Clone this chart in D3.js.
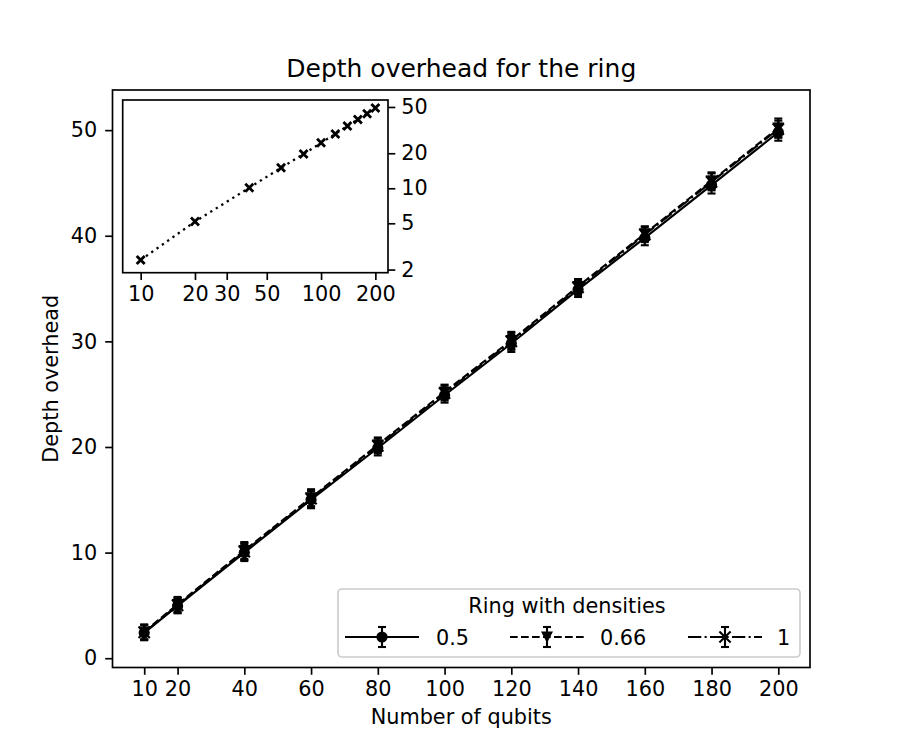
<!DOCTYPE html>
<html>
<head>
<meta charset="utf-8">
<script src="https://cdn.jsdelivr.net/npm/d3@7"></script>
<style>
  body { margin: 0; background: #fff; }
  svg text { font-family: "DejaVu Sans", sans-serif; fill: #000; }
</style>
</head>
<body>
<svg id="chart" width="900" height="750"></svg>
<script>
// data
var qubits = [10, 20, 40, 60, 80, 100, 120, 140, 160, 180, 200];
var densities = ["0.5", "0.66", "1"];
var depth05 = [2.4, 4.95, 10.0, 15.0, 19.9, 24.9, 29.8, 34.9, 39.8, 44.8, 49.8];
var depth066 = [2.5, 5.1, 10.2, 15.2, 20.2, 25.2, 30.1, 35.2, 40.2, 45.2, 50.2];
var depth1 = [2.45, 5.0, 10.1, 15.1, 20.1, 25.1, 30.0, 35.1, 40.1, 45.1, 50.1];
var err05 = [0.7, 0.7, 0.8, 0.8, 0.7, 0.7, 0.8, 0.7, 0.7, 0.8, 0.8];
var err066 = [0.7, 0.7, 0.8, 0.8, 0.7, 0.7, 0.8, 0.7, 0.7, 0.8, 0.9];
var err1 = [0.7, 0.7, 0.8, 0.8, 0.7, 0.7, 0.8, 0.7, 0.7, 0.8, 0.8];
var xTicks = [10, 20, 40, 60, 80, 100, 120, 140, 160, 180, 200];
var yTicks = [0, 10, 20, 30, 40, 50];
// inset (log-log) data
var insetDepth = [2.42, 5.17, 10.1, 15.0, 19.7, 24.6, 29.3, 34.3, 39.1, 43.7, 49.0];
var insetXTicks = [10, 20, 30, 50, 100, 200];
var insetYTicks = [2, 5, 10, 20, 50];

var svg = d3.select("#chart");
var FS = 20.8;
var LW = 2.1;
var TICK = 7.3;

var margin = { left: 112.5, right: 810, top: 90, bottom: 667.5 };

var x = d3.scaleLinear().domain([0.5, 209.5]).range([margin.left, margin.right]);
var y = d3.scaleLinear().domain([-0.88, 53.8]).range([margin.bottom, margin.top]);

var series = [
  { name: densities[0], vals: depth05, errs: err05, dash: null, marker: "circle" },
  { name: densities[1], vals: depth066, errs: err066, dash: "7.7,3.3", marker: "tri" },
  { name: densities[2], vals: depth1, errs: err1, dash: "13.3,3.3,2.1,3.3", marker: "x" }
];

function styleAxis(a) {
  a.select(".domain").remove();
  a.selectAll(".tick line").attr("stroke", "#000").attr("stroke-width", 1.67);
  a.selectAll(".tick text").style("font-size", FS + "px").attr("font-family", "DejaVu Sans");
}

// axes
var xAxis = svg.append("g")
  .attr("transform", "translate(0," + margin.bottom + ")")
  .call(d3.axisBottom(x).tickValues(xTicks).tickSize(TICK).tickPadding(6));
var yAxis = svg.append("g")
  .attr("transform", "translate(" + margin.left + ",0)")
  .call(d3.axisLeft(y).tickValues(yTicks).tickSize(TICK).tickPadding(8));
styleAxis(xAxis);
styleAxis(yAxis);

// lines and error bars
var plot = svg.append("g");
function drawMarker(g, kind, cx, cy) {
  if (kind === "circle") {
    g.append("circle").attr("cx", cx).attr("cy", cy).attr("r", 5.6).attr("fill", "#000");
  } else if (kind === "tri") {
    var s = 6;
    g.append("path")
      .attr("d", "M" + (cx - s) + "," + (cy - s * 0.9) + "L" + (cx + s) + "," + (cy - s * 0.9) + "L" + cx + "," + (cy + s) + "Z")
      .attr("fill", "#000");
  } else {
    var t = 5.6;
    g.append("path")
      .attr("d", "M" + (cx - t) + "," + (cy - t) + "L" + (cx + t) + "," + (cy + t) + "M" + (cx - t) + "," + (cy + t) + "L" + (cx + t) + "," + (cy - t))
      .attr("stroke", "#000").attr("stroke-width", 2.1).attr("fill", "none");
  }
}
function drawErr(g, cx, lo, hi) {
  g.append("line").attr("x1", cx).attr("x2", cx).attr("y1", lo).attr("y2", hi)
    .attr("stroke", "#000").attr("stroke-width", LW);
  [lo, hi].forEach(function (yy) {
    g.append("line").attr("x1", cx - 4).attr("x2", cx + 4).attr("y1", yy).attr("y2", yy)
      .attr("stroke", "#000").attr("stroke-width", LW);
  });
}

var line = d3.line().x(function (d) { return x(d[0]); }).y(function (d) { return y(d[1]); });
series.forEach(function (s) {
  var pts = qubits.map(function (q, i) { return [q, s.vals[i]]; });
  plot.append("path").datum(pts).attr("d", line)
    .attr("fill", "none").attr("stroke", "#000").attr("stroke-width", LW)
    .attr("stroke-dasharray", s.dash);
  qubits.forEach(function (q, i) {
    drawErr(plot, x(q), y(s.vals[i] - s.errs[i]), y(s.vals[i] + s.errs[i]));
    drawMarker(plot, s.marker, x(q), y(s.vals[i]));
  });
});

// frame
svg.append("rect").attr("x", margin.left).attr("y", margin.top)
  .attr("width", margin.right - margin.left).attr("height", margin.bottom - margin.top)
  .attr("fill", "none").attr("stroke", "#000").attr("stroke-width", 1.67);

// title and labels
svg.append("text").attr("x", (margin.left + margin.right) / 2).attr("y", 77)
  .attr("text-anchor", "middle").style("font-size", "25px").text("Depth overhead for the ring");
svg.append("text").attr("x", (margin.left + margin.right) / 2).attr("y", 724)
  .attr("text-anchor", "middle").style("font-size", FS + "px").text("Number of qubits");
svg.append("text")
  .attr("transform", "translate(58," + (margin.top + margin.bottom) / 2 + ") rotate(-90)")
  .attr("text-anchor", "middle").style("font-size", FS + "px").text("Depth overhead");

// legend
var lg = svg.append("g");
lg.append("rect").attr("x", 338).attr("y", 589).attr("width", 462).attr("height", 68)
  .attr("rx", 4).attr("fill", "#fff").attr("fill-opacity", 0.8)
  .attr("stroke", "#ccc").attr("stroke-width", 1.67);
lg.append("text").attr("x", 567).attr("y", 613).attr("text-anchor", "middle")
  .style("font-size", FS + "px").text("Ring with densities");
var legX = [345, 510, 688];
var labX = [436, 600, 777];
series.forEach(function (s, i) {
  var x0 = legX[i], ly = 637;
  lg.append("line").attr("x1", x0).attr("x2", x0 + 74).attr("y1", ly).attr("y2", ly)
    .attr("stroke", "#000").attr("stroke-width", LW).attr("stroke-dasharray", s.dash);
  drawErr(lg, x0 + 37, ly + 10, ly - 10);
  drawMarker(lg, s.marker, x0 + 37, ly);
  lg.append("text").attr("x", labX[i]).attr("y", ly + 7.5).style("font-size", FS + "px").text(s.name);
});

// inset log-log axes
var inset = { left: 122.7, right: 388, top: 100, bottom: 272.7 };
var ix = d3.scaleLog().domain([7.95, 235]).range([inset.left, inset.right]);
var iy = d3.scaleLog().domain([1.88, 57.4]).range([inset.bottom, inset.top]);
var ig = svg.append("g");
ig.append("rect").attr("x", inset.left).attr("y", inset.top)
  .attr("width", inset.right - inset.left).attr("height", inset.bottom - inset.top)
  .attr("fill", "#fff");
var ixAxis = ig.append("g").attr("transform", "translate(0," + inset.bottom + ")")
  .call(d3.axisBottom(ix).tickValues(insetXTicks).tickFormat(d3.format("d")).tickSize(TICK).tickPadding(6));
var iyAxis = ig.append("g").attr("transform", "translate(" + inset.right + ",0)")
  .call(d3.axisRight(iy).tickValues(insetYTicks).tickFormat(d3.format("d")).tickSize(TICK).tickPadding(6));
styleAxis(ixAxis);
styleAxis(iyAxis);
var ipts = qubits.map(function (q, i) { return [q, insetDepth[i]]; });
ig.append("path").datum(ipts)
  .attr("d", d3.line().x(function (d) { return ix(d[0]); }).y(function (d) { return iy(d[1]); }))
  .attr("fill", "none").attr("stroke", "#000").attr("stroke-width", 2.3)
  .attr("stroke-dasharray", "2.3,4.2");
ipts.forEach(function (d) {
  var cx = ix(d[0]), cy = iy(d[1]), t = 4;
  ig.append("path")
    .attr("d", "M" + (cx - t) + "," + (cy - t) + "L" + (cx + t) + "," + (cy + t) + "M" + (cx - t) + "," + (cy + t) + "L" + (cx + t) + "," + (cy - t))
    .attr("stroke", "#000").attr("stroke-width", 2.8).attr("fill", "none");
});
ig.append("rect").attr("x", inset.left).attr("y", inset.top)
  .attr("width", inset.right - inset.left).attr("height", inset.bottom - inset.top)
  .attr("fill", "none").attr("stroke", "#000").attr("stroke-width", 1.67);
</script>
</body>
</html>
